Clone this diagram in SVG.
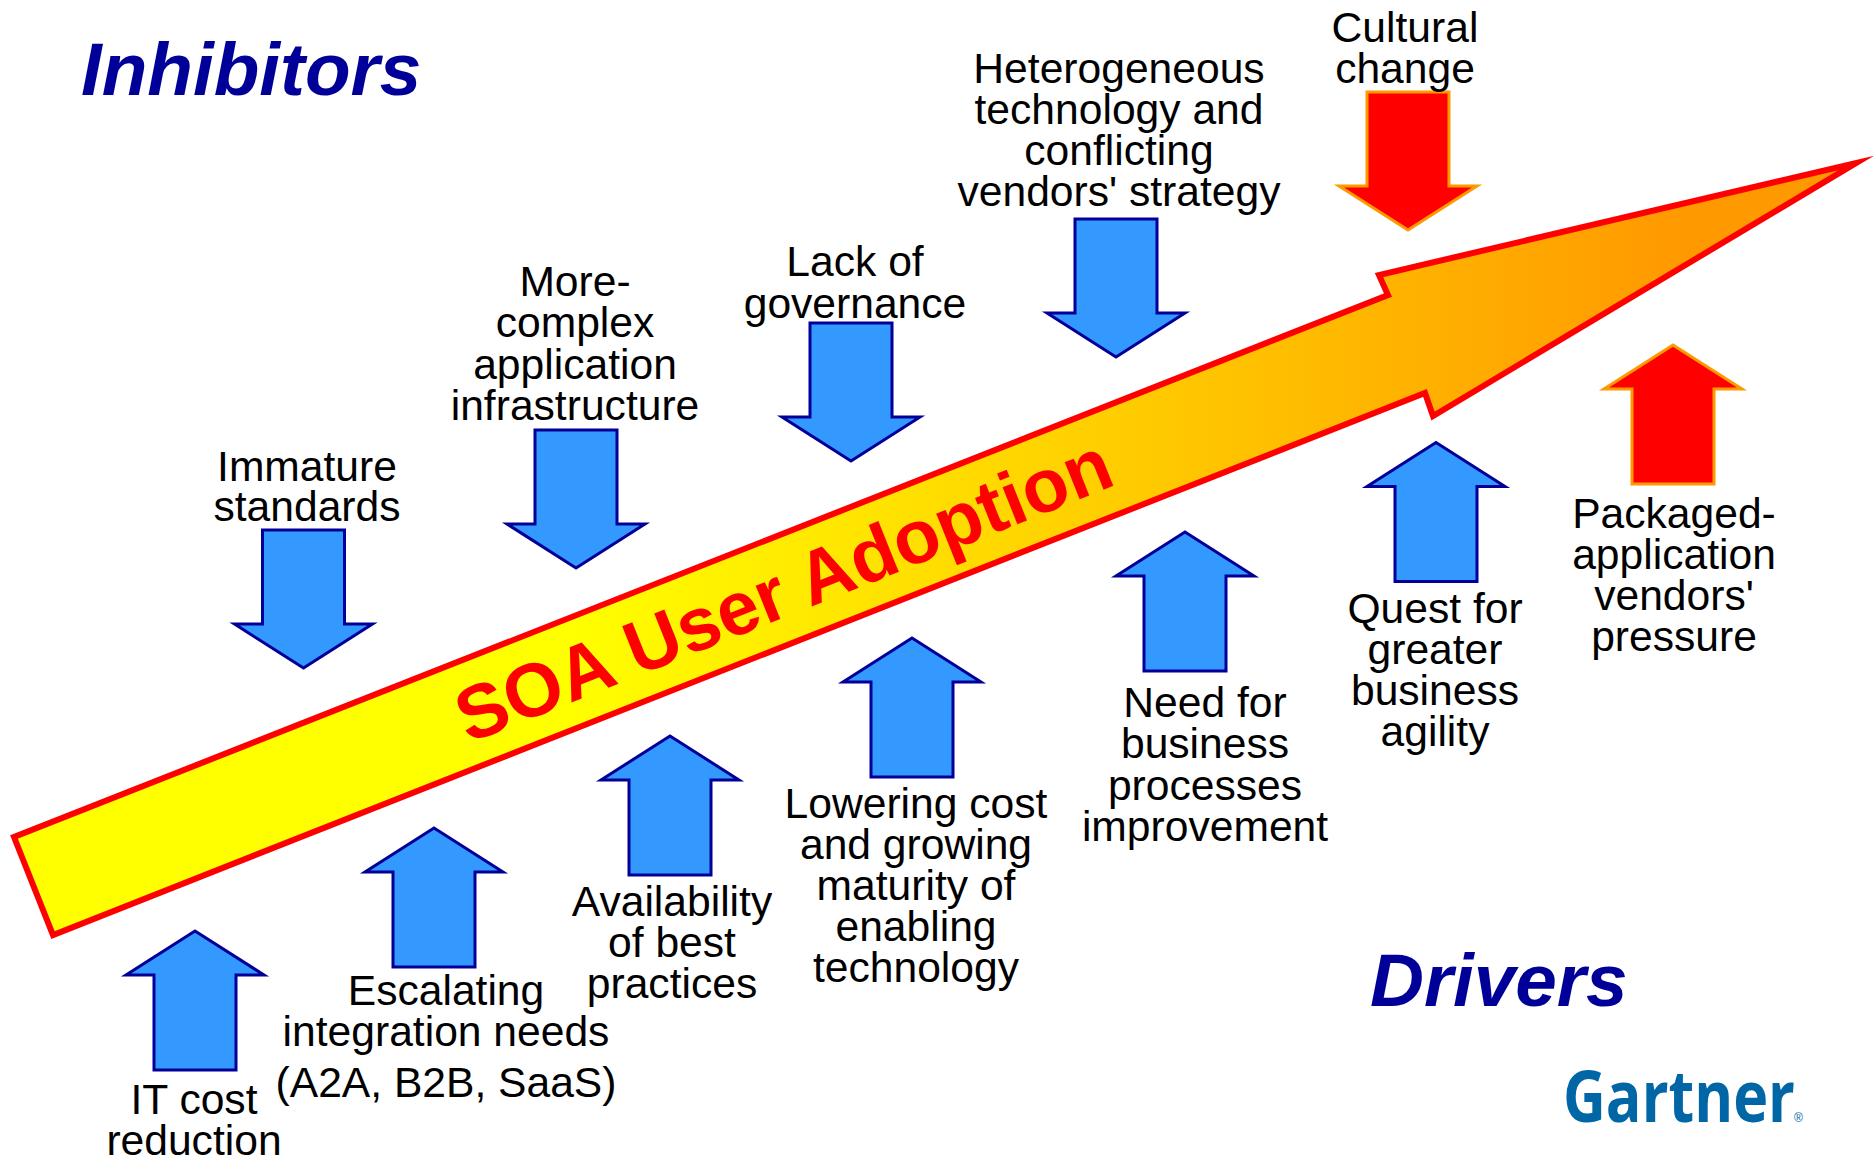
<svg xmlns="http://www.w3.org/2000/svg" width="1875" height="1157" viewBox="0 0 1875 1157">
<style>
text{font-family:"Liberation Sans",Arial,sans-serif}
.l{font-size:42.6px;fill:#000;text-anchor:middle}
.t{font-size:74.7px;font-weight:bold;font-style:italic;fill:#000099}
.b{fill:#3399ff;stroke:#000099;stroke-width:3}
.r{fill:#ff0000;stroke:#ff9900;stroke-width:3}
</style>
<defs>
<linearGradient id="g" gradientUnits="userSpaceOnUse" x1="12" y1="0" x2="1870" y2="0">
<stop offset="0.3" stop-color="#ffff00"/><stop offset="0.9" stop-color="#ff9900"/>
</linearGradient>
<polygon id="up" points="0,0 69,44 41,44 41,139 -41,139 -41,44 -69,44"/>
<polygon id="dn" points="0,0 69,-44 41,-44 41,-138 -41,-138 -41,-44 -69,-44"/>
</defs>
<rect width="1875" height="1157" fill="#fff"/>
<g id="main-arrow">
<polygon points="14,837 53,935 1425,393 1433,416 1856,163 1379,275 1388,295" fill="url(#g)" stroke="#ff0000" stroke-width="6" stroke-miterlimit="12"/>
<text transform="translate(793,614) rotate(-21.8)" font-size="75.5" font-weight="bold" fill="#ff0000" text-anchor="middle">SOA User Adoption</text>
</g>
<g id="title-inhibitors"><text class="t" x="81" y="94.500">Inhibitors</text></g>
<g id="title-drivers"><text class="t" x="1370" y="1006">Drivers</text></g>
<g id="gartner-logo"><text x="1563" y="1122" style="font-family:'Open Sans',sans-serif" font-size="72" font-weight="700" fill="#0066a6" textLength="232" lengthAdjust="spacingAndGlyphs">Gartner</text><text x="1794" y="1122" font-size="12" fill="#0066a6">®</text></g>
<g id="cultural"><use href="#dn" class="r" x="1408" y="230"/><text class="l" x="1405" y="41.500">Cultural</text><text class="l" x="1405" y="82.500">change</text></g>
<g id="heterogeneous"><use href="#dn" class="b" x="1116" y="357"/><text class="l" x="1119" y="82.500">Heterogeneous</text><text class="l" x="1119" y="123.500">technology and</text><text class="l" x="1119" y="164.500">conflicting</text><text class="l" x="1119" y="205.500">vendors' strategy</text></g>
<g id="governance"><use href="#dn" class="b" x="851" y="461"/><text class="l" x="855" y="276">Lack of</text><text class="l" x="855" y="317.500">governance</text></g>
<g id="complex"><use href="#dn" class="b" x="576" y="568"/><text class="l" x="575" y="296">More-</text><text class="l" x="575" y="337">complex</text><text class="l" x="575" y="378.500">application</text><text class="l" x="575" y="419.500">infrastructure</text></g>
<g id="immature"><use href="#dn" class="b" x="303.500" y="668"/><text class="l" x="307" y="480.500">Immature</text><text class="l" x="307" y="521">standards</text></g>
<g id="it-cost"><use href="#up" class="b" x="195" y="931"/><text class="l" x="194" y="1114">IT cost</text><text class="l" x="194" y="1155">reduction</text></g>
<g id="escalating"><use href="#up" class="b" x="434" y="828"/><text class="l" x="446" y="1005">Escalating</text><text class="l" x="446" y="1046">integration needs</text><text class="l" x="446" y="1097">(A2A, B2B, SaaS)</text></g>
<g id="availability"><use href="#up" class="b" x="670" y="736"/><text class="l" x="672" y="916">Availability</text><text class="l" x="672" y="957">of best</text><text class="l" x="672" y="998">practices</text></g>
<g id="lowering"><use href="#up" class="b" x="912" y="638"/><text class="l" x="916" y="818">Lowering cost</text><text class="l" x="916" y="858.500">and growing</text><text class="l" x="916" y="900">maturity of</text><text class="l" x="916" y="941">enabling</text><text class="l" x="916" y="982">technology</text></g>
<g id="need"><use href="#up" class="b" x="1185" y="532"/><text class="l" x="1205" y="716.500">Need for</text><text class="l" x="1205" y="758">business</text><text class="l" x="1205" y="800">processes</text><text class="l" x="1205" y="841">improvement</text></g>
<g id="quest"><use href="#up" class="b" x="1436" y="442.500"/><text class="l" x="1435" y="622.500">Quest for</text><text class="l" x="1435" y="664">greater</text><text class="l" x="1435" y="705">business</text><text class="l" x="1435" y="746">agility</text></g>
<g id="packaged"><use href="#up" class="r" x="1673" y="345"/><text class="l" x="1674" y="527.500">Packaged-</text><text class="l" x="1674" y="568.500">application</text><text class="l" x="1674" y="609.500">vendors'</text><text class="l" x="1674" y="650.500">pressure</text></g>
</svg>
